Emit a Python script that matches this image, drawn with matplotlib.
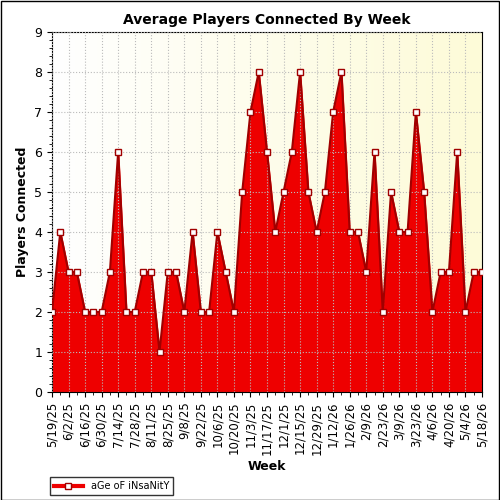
import numpy as np
import pandas as pd
import matplotlib
matplotlib.use("Agg")
import matplotlib.pyplot as plt
from matplotlib.colors import LinearSegmentedColormap

weeks = pd.date_range("2025-05-19", periods=53, freq="7D")
players = [2, 4, 3, 3, 2, 2, 2, 3, 6, 2, 2, 3, 3, 1, 3, 3, 2, 4, 2, 2, 4, 3, 2, 5, 7, 8, 6,
           4, 5, 6, 8, 5, 4, 5, 7, 8, 4, 4, 3, 6, 2, 5, 4, 4, 7, 5, 2, 3, 3, 6, 2, 3, 3]
labels = [f"{d.month}/{d.day}/{d.strftime('%y')}" for d in weeks]

fig = plt.figure(figsize=(5, 5), dpi=100)
fig.patch.set_facecolor("white")
ax = fig.add_axes([0.104, 0.216, 0.86, 0.72])
x = np.arange(len(players))

# soft yellow gradient background
cmap = LinearSegmentedColormap.from_list("bg", ["#ffffff", "#fdfbd8"])
grad = np.linspace(0, 1, 256).reshape(1, -1)
ax.imshow(grad, cmap=cmap, aspect="auto", extent=[0, len(x) - 1, 0, 9], zorder=0)

ax.fill_between(x, players, color="#ee0000", zorder=2)
ax.plot(x, players, color="#a00000", lw=1.5, zorder=3)
ax.plot(x, players, ls="none", marker="s", ms=5, mfc="white", mec="#a00000", mew=1, zorder=4,
        label="aGe oF iNsaNitY")

ax.set_xlim(0, len(x) - 1)
ax.set_ylim(0, 9)
ax.set_yticks(range(10))
ax.set_yticks(np.arange(0, 9, 0.2), minor=True)
ax.set_xticks(x[::2])
ax.set_xticklabels(labels[::2], rotation=90, fontsize=8.5)
ax.set_xticks(x, minor=True)
ax.tick_params(axis="y", labelsize=9)
ax.grid(True, ls=":", color="#bbbbbb", lw=0.8, zorder=1)
ax.set_axisbelow(False)
ax.set_title("Average Players Connected By Week", fontsize=10, fontweight="bold")
ax.set_xlabel("Week", fontsize=9, fontweight="bold")
ax.set_ylabel("Players Connected", fontsize=9, fontweight="bold")

fig.legend(loc="lower left", bbox_to_anchor=(0.09, 0.0), fontsize=7, frameon=True,
           fancybox=False, edgecolor="black", handlelength=3,
           handles=[plt.Line2D([], [], color="#ee0000", lw=3, marker="s", ms=5,
                               mfc="white", mec="#a00000")],
           labels=["aGe oF iNsaNitY"])
fig.patches.append(plt.Rectangle((0.001, 0.001), 0.997, 0.997, transform=fig.transFigure,
                                 fill=False, edgecolor="black", lw=1))

fig.savefig("out.png")
